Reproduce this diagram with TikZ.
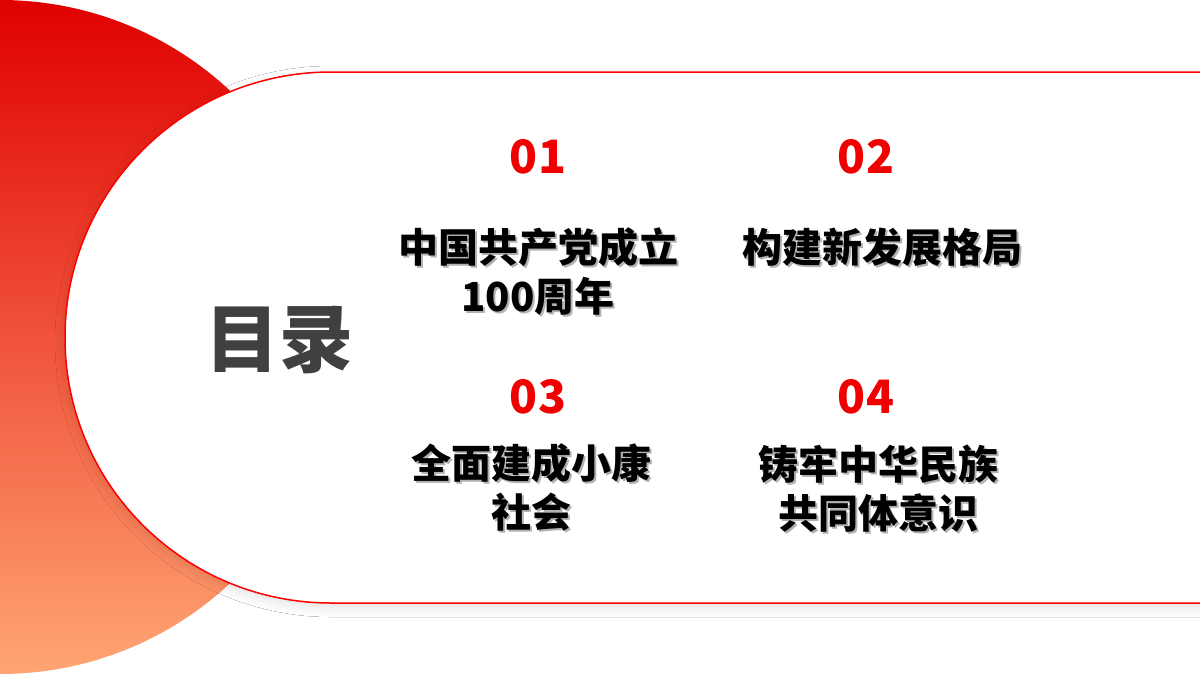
\documentclass[tikz,border=0pt]{standalone}
\usepackage{fontspec}
\setmainfont{Noto Sans CJK SC}
\usetikzlibrary{shadows.blur}
\definecolor{numred}{HTML}{F00000}
\definecolor{titlegray}{HTML}{404040}
\tikzset{
  num/.style={font=\fontsize{46}{50}\selectfont\bfseries, text=numred},
  lbl/.style={font=\fontsize{40}{49}\selectfont\bfseries, text=black, align=center},
  lblsh/.style={font=\fontsize{40}{49}\selectfont\bfseries, text=black!30, align=center},
}
\begin{document}
\begin{tikzpicture}[x=1pt,y=-1pt]
\useasboundingbox (0,0) rectangle (1200,675);
\fill[white] (0,0) rectangle (1200,675);
\begin{scope}
\clip (0,0) rectangle (1200,675);
\shade[top color={rgb,255:red,224;green,0;blue,0}, bottom color={rgb,255:red,255;green,165;blue,115}] (0,337) circle[radius=337];
\draw[red, line width=1.5pt, fill=white, blur shadow={shadow xshift=0pt, shadow yshift=-4pt, shadow blur radius=10pt, shadow opacity=12, shadow blur steps=8}]
  (1250,72) -- (331,72) arc[start angle=270, end angle=90, x radius=266, y radius=265.5] -- (1250,603) -- cycle;
\end{scope}
\node[font=\fontsize{74}{74}\selectfont\bfseries, text=titlegray] (title) at (279,340) {目录};
\node[num] (n1) at (538,157) {01};
\node[num] (n2) at (866,157) {02};
\node[num] (n3) at (538,397) {03};
\node[num] (n4) at (866,397) {04};
\node[lblsh] at (540,274) {中国共产党成立\\100周年};
\node[lbl] (l1) at (538,272) {中国共产党成立\\100周年};
\node[lblsh] at (884,249) {构建新发展格局};
\node[lbl] (l2) at (882,247) {构建新发展格局};
\node[lblsh] at (533,489) {全面建成小康\\社会};
\node[lbl] (l3) at (531,487) {全面建成小康\\社会};
\node[lblsh] at (880,491) {铸牢中华民族\\共同体意识};
\node[lbl] (l4) at (878,489) {铸牢中华民族\\共同体意识};
\end{tikzpicture}
\end{document}
